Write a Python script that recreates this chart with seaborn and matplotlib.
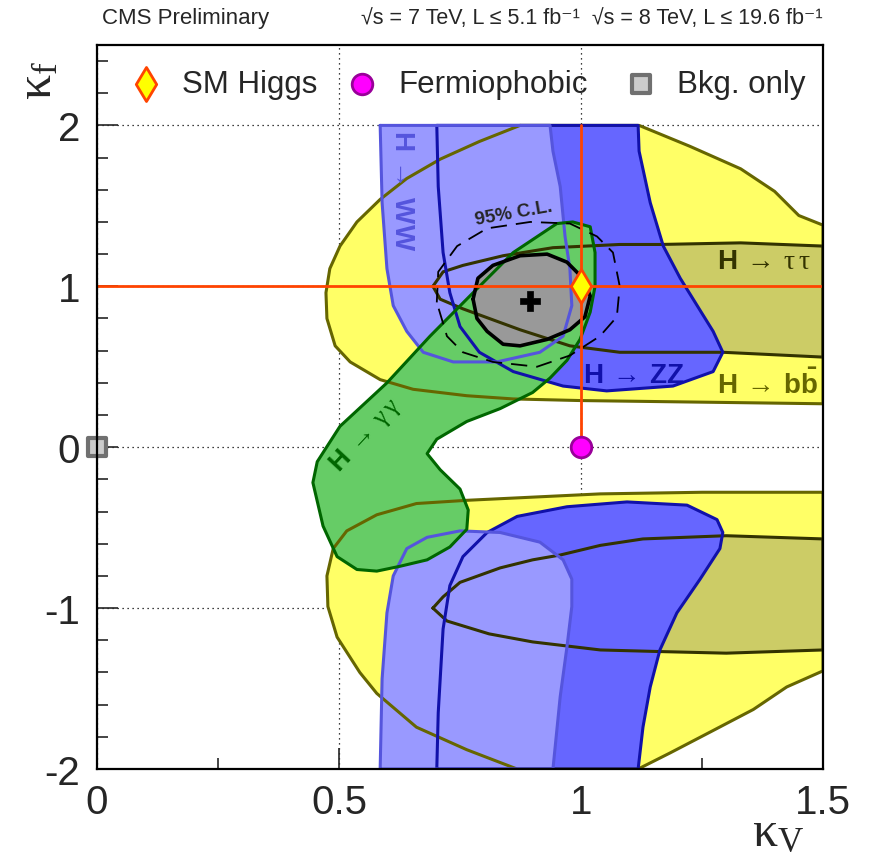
import matplotlib
matplotlib.use("Agg")
import matplotlib.pyplot as plt
import seaborn as sns
import pandas as pd

# --- contours in (kappa_V, kappa_f) ---
bb_up_kv = [0.874, 1.12, 1.225, 1.33, 1.40, 1.45, 1.5, 1.5, 1.25, 0.998, 0.86, 0.764, 0.653, 0.585,
            0.523, 0.492, 0.475, 0.473, 0.481, 0.502, 0.537, 0.585, 0.64, 0.709, 0.79, 0.874]
bb_up_kf = [2.0, 2.0, 1.87, 1.73, 1.59, 1.44, 1.38, 0.27, 0.28, 0.29, 0.30, 0.32, 0.36, 0.42,
            0.53, 0.63, 0.80, 0.96, 1.11, 1.25, 1.40, 1.54, 1.67, 1.79, 1.90, 2.0]
bb_lo_kv = [1.5, 1.5, 1.425, 1.356, 1.267, 1.184, 1.118, 0.868, 0.764, 0.66, 0.578, 0.543, 0.496,
            0.477, 0.475, 0.488, 0.516, 0.578, 0.66, 0.764, 1.04, 1.25, 1.5]
bb_lo_kf = [-0.28, -1.39, -1.49, -1.63, -1.77, -1.90, -2.0, -2.0, -1.88, -1.74, -1.53, -1.40, -1.18,
            -0.99, -0.80, -0.63, -0.52, -0.42, -0.35, -0.33, -0.29, -0.28, -0.28]

tt_up_kv = [0.694, 0.715, 0.756, 0.839, 0.942, 1.08, 1.163, 1.33, 1.5, 1.5, 1.293, 1.08, 0.977,
            0.874, 0.756, 0.709, 0.694]
tt_up_kf = [1.0, 1.09, 1.13, 1.19, 1.24, 1.26, 1.26, 1.27, 1.25, 0.56, 0.59, 0.59, 0.63,
            0.73, 0.86, 0.92, 1.0]
tt_lo_kv = [0.694, 0.715, 0.75, 0.833, 0.90, 0.957, 1.04, 1.128, 1.30, 1.5, 1.5, 1.30, 1.163,
            1.04, 0.90, 0.81, 0.723, 0.694]
tt_lo_kf = [-1.0, -0.93, -0.84, -0.75, -0.70, -0.67, -0.61, -0.57, -0.55, -0.57, -1.26, -1.28, -1.27,
            -1.26, -1.21, -1.16, -1.08, -1.0]

zz_up_kv = [0.702, 1.118, 1.12, 1.143, 1.17, 1.205, 1.24, 1.273, 1.293, 1.273, 1.19, 1.053, 0.963,
            0.86, 0.79, 0.75, 0.729, 0.715, 0.705, 0.702]
zz_up_kf = [2.0, 2.0, 1.84, 1.52, 1.25, 1.05, 0.88, 0.72, 0.59, 0.47, 0.38, 0.35, 0.38,
            0.47, 0.59, 0.75, 0.96, 1.21, 1.62, 2.0]
zz_lo_kv = [0.702, 0.705, 0.715, 0.729, 0.756, 0.806, 0.868, 0.971, 1.095, 1.219, 1.281, 1.293,
            1.287, 1.246, 1.198, 1.163, 1.143, 1.128, 1.118, 0.702]
zz_lo_kf = [-2.0, -1.65, -1.13, -0.86, -0.68, -0.53, -0.43, -0.37, -0.34, -0.36, -0.45, -0.53,
            -0.63, -0.82, -1.03, -1.26, -1.49, -1.74, -2.0, -2.0]

ww_up_kv = [0.585, 0.936, 0.942, 0.957, 0.967, 0.977, 0.981, 0.963, 0.915, 0.826, 0.736, 0.674,
            0.64, 0.612, 0.599, 0.589, 0.585]
ww_up_kf = [2.0, 2.0, 1.84, 1.62, 1.31, 1.11, 0.88, 0.69, 0.59, 0.53, 0.53, 0.59,
            0.72, 0.88, 1.11, 1.52, 2.0]
ww_lo_kv = [0.585, 0.589, 0.599, 0.612, 0.64, 0.682, 0.75, 0.833, 0.915, 0.963, 0.981, 0.981,
            0.971, 0.957, 0.942, 0.585]
ww_lo_kf = [-2.0, -1.44, -1.03, -0.80, -0.63, -0.56, -0.52, -0.53, -0.59, -0.70, -0.82, -0.99,
            -1.24, -1.55, -2.0, -2.0]

gg_kv = [0.95, 0.983, 1.019, 1.029, 1.029, 1.019, 0.998, 0.971, 0.936, 0.90, 0.833, 0.764, 0.702,
         0.682, 0.709, 0.75, 0.767, 0.764, 0.729, 0.682, 0.626, 0.578, 0.537, 0.496, 0.467, 0.446,
         0.455, 0.502, 0.599, 0.688, 0.777, 0.86, 0.95]
gg_kf = [1.39, 1.40, 1.37, 1.21, 1.0, 0.84, 0.67, 0.54, 0.43, 0.34, 0.24, 0.16, 0.05,
         -0.04, -0.14, -0.26, -0.39, -0.51, -0.62, -0.70, -0.74, -0.77, -0.76, -0.68, -0.49, -0.22,
         -0.09, 0.13, 0.40, 0.69, 0.96, 1.21, 1.39]

comb68_kv = [0.777, 0.787, 0.818, 0.874, 0.93, 0.971, 1.004, 1.019, 1.008, 0.977, 0.93, 0.874,
             0.839, 0.806, 0.785, 0.777]
comb68_kf = [0.92, 1.05, 1.13, 1.19, 1.20, 1.15, 1.05, 0.94, 0.81, 0.73, 0.67, 0.63,
             0.64, 0.72, 0.80, 0.92]
comb95_kv = [0.702, 0.705, 0.744, 0.806, 0.895, 0.977, 1.033, 1.066, 1.08, 1.074, 1.039, 0.977,
             0.909, 0.818, 0.756, 0.723, 0.702]
comb95_kf = [0.90, 1.09, 1.25, 1.36, 1.40, 1.39, 1.31, 1.21, 1.0, 0.81, 0.69, 0.57,
             0.50, 0.53, 0.59, 0.69, 0.90]

best_fit = (0.895, 0.91)

point_names = ["SM Higgs", "Fermiophobic", "Bkg. only"]
point_kv = [1.0, 1.0, 0.0]
point_kf = [1.0, 0.0, 0.0]

# --- style ---
sns.set_style("ticks")
plt.rcParams["font.family"] = ["Liberation Sans", "DejaVu Sans"]
plt.rcParams["axes.unicode_minus"] = False
plt.rcParams["mathtext.fontset"] = "custom"
plt.rcParams["mathtext.rm"] = "Liberation Serif"
plt.rcParams["mathtext.it"] = "Liberation Serif:italic"
plt.rcParams["mathtext.bf"] = "Liberation Sans:bold"

fig = plt.figure(figsize=(8.71, 8.62), dpi=100)
ax = fig.add_axes([0.1114, 0.1067, 0.8335, 0.84])

YEL, YEL_E = "#ffff66", "#666600"
TT, TT_E = "#cccc66", "#333300"
ZZ, ZZ_E = "#6666ff", "#1111aa"
WW, WW_E = "#9999ff", "#5555dd"
GG, GG_E = "#66cc66", "#006600"

layers = [
    (bb_up_kv, bb_up_kf, YEL, YEL_E),
    (bb_lo_kv, bb_lo_kf, YEL, YEL_E),
    (tt_up_kv, tt_up_kf, TT, TT_E),
    (tt_lo_kv, tt_lo_kf, TT, TT_E),
    (zz_up_kv, zz_up_kf, ZZ, ZZ_E),
    (zz_lo_kv, zz_lo_kf, ZZ, ZZ_E),
    (ww_up_kv, ww_up_kf, WW, WW_E),
    (ww_lo_kv, ww_lo_kf, WW, WW_E),
    (gg_kv, gg_kf, GG, GG_E),
    (comb68_kv, comb68_kf, "#999999", "black"),
]
# fills first, outlines afterwards (as ROOT draws them)
for kv, kf, fc, ec in layers:
    ax.fill(kv, kf, color=fc, lw=0, zorder=2)
for kv, kf, fc, ec in layers:
    lw = 2.6 if ec == "black" else 2.2
    ax.plot(kv, kf, color=ec, lw=lw, zorder=3, solid_joinstyle="round")
ax.plot(comb95_kv, comb95_kf, color="black", lw=1.3, ls=(0, (9, 5)), zorder=3)

# SM lines
red = "#ff4400"
ax.axhline(point_kf[0], color=red, lw=2.0, zorder=4)
ax.plot([point_kv[0], point_kv[0]], [point_kf[1], 2.0], color=red, lw=2.0, zorder=4)

sns.scatterplot(x=[best_fit[0]], y=[best_fit[1]], marker="P", s=190, color="black",
                edgecolor="black", linewidth=0.5, ax=ax, zorder=6, legend=False)

mk = {"SM Higgs": ("d", "#ffff00", red, 300, 2.0),
      "Fermiophobic": ("o", "#ff00ff", "#990099", 220, 2.0),
      "Bkg. only": ("s", "#cccccc", "#707070", 170, 3.0)}
pts = pd.DataFrame({"kv": point_kv, "kf": point_kf, "name": point_names})
for _, r in pts.iterrows():
    m, fc, ec, s, lw = mk[r["name"]]
    sns.scatterplot(x=[r["kv"]], y=[r["kf"]], marker=m, s=s, color=fc, edgecolor=ec,
                    linewidth=lw, ax=ax, zorder=7, clip_on=False, legend=False)

# legend row inside the top strip
leg_x = [0.101, 0.548, 1.124]
for name, lx in zip(point_names, leg_x):
    m, fc, ec, s, lw = mk[name]
    ax.scatter([lx], [2.26], marker=m, s=s, c=fc, edgecolors=ec, linewidths=lw, zorder=7)
    ax.text(lx + 0.075, 2.26, name, fontsize=22.5, va="center", ha="left")

# channel labels
ax.text(0.63, 1.60, r"$\mathbf{H}\;\rightarrow\;\mathbf{WW}$", color=WW_E, fontsize=20,
        rotation=-90, ha="center", va="center", zorder=5)
ax.text(1.11, 0.45, r"$\mathbf{H}\;\rightarrow\;\mathbf{ZZ}$", color=ZZ_E, fontsize=20,
        ha="center", va="center", zorder=5)
ax.text(1.378, 1.16, r"$\mathbf{H}\;\rightarrow\;\mathrm{\tau\,\tau}$", color=TT_E, fontsize=20,
        ha="center", va="center", zorder=5)
ax.text(1.385, 0.39, r"$\mathbf{H}\;\rightarrow\;\mathbf{b\bar{b}}$", color=YEL_E, fontsize=20,
        ha="center", va="center", zorder=5)
ax.text(0.554, 0.08, r"$\mathbf{H}\;\rightarrow\;\mathrm{\gamma\,\gamma}$", color=GG_E, fontsize=19,
        rotation=47, ha="center", va="center", zorder=5)
ax.text(0.86, 1.46, "95% C.L.", fontsize=13.5, fontweight="bold", rotation=10,
        ha="center", va="center", zorder=5)

# axes
ax.set_xlim(0, 1.5)
ax.set_ylim(-2, 2.5)
ax.set_xticks([0, 0.5, 1.0, 1.5])
ax.set_xticklabels(["0", "0.5", "1", "1.5"])
ax.set_yticks([-2, -1, 0, 1, 2])
ax.set_yticklabels(["-2", "-1", "0", "1", "2"])
ax.set_xticks([0.25, 0.75, 1.25], minor=True)
ax.set_yticks([-1.8, -1.6, -1.4, -1.2, -0.8, -0.6, -0.4, -0.2, 0.2, 0.4, 0.6, 0.8,
               1.2, 1.4, 1.6, 1.8, 2.2, 2.4], minor=True)
ax.tick_params(which="both", direction="in", top=False, right=False, width=1.2, labelsize=29)
ax.tick_params(which="major", length=15)
ax.tick_params(which="minor", length=8)
ax.tick_params(axis="x", pad=10)
ax.tick_params(axis="y", pad=12)
ax.grid(True, which="major", color="black", ls=(0, (1, 3)), lw=0.9)
ax.set_axisbelow(True)
for sp in ax.spines.values():
    sp.set_linewidth(1.6)
    sp.set_color("black")
    sp.set_zorder(8)

fig.text(0.044, 0.907, r"$\mathrm{\kappa_{f}}$", fontsize=36, rotation=90, ha="center", va="center")
fig.text(0.893, 0.034, r"$\mathrm{\kappa_{V}}$", fontsize=36, ha="center", va="center")
fig.text(0.117, 0.978, "CMS Preliminary", fontsize=16, ha="left", va="center")
fig.text(0.944, 0.978, "√s = 7 TeV, L ≤ 5.1 fb⁻¹  √s = 8 TeV, L ≤ 19.6 fb⁻¹", fontsize=15.5,
         ha="right", va="center")

fig.savefig("out.png", dpi=100)
